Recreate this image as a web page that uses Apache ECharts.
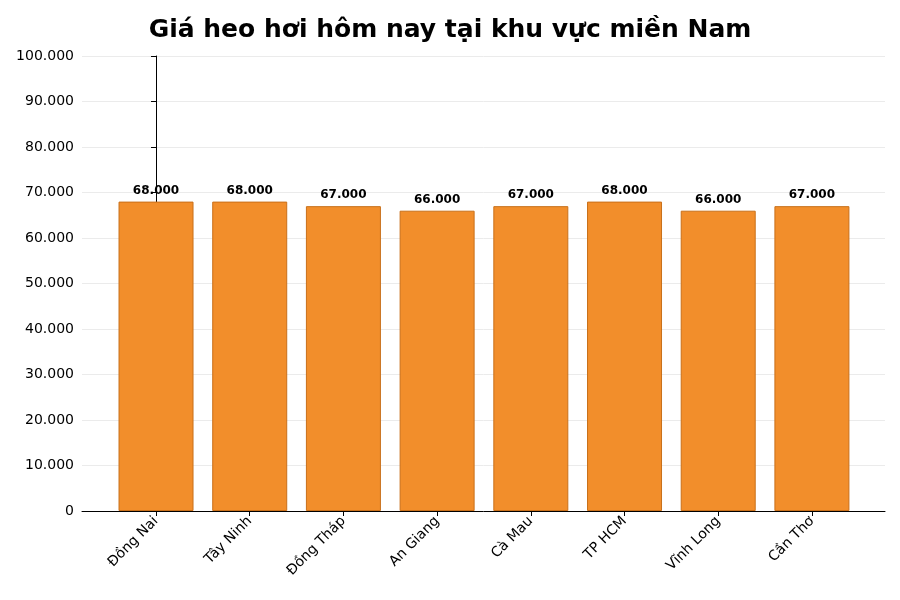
<!DOCTYPE html><html><head><meta charset="utf-8"><script src="https://cdn.jsdelivr.net/npm/echarts@6/dist/echarts.min.js"></script></head><body style="margin:0"><div id="c" style="width:900px;height:600px"></div><script>
const categories=["Đồng Nai","Tây Ninh","Đồng Tháp","An Giang","Cà Mau","TP HCM","Vĩnh Long","Cần Thơ"];
const values=[68000,68000,67000,66000,67000,68000,66000,67000];
const fmt=v=>v===0?'0':(v/1000).toFixed(0)+'.000';
const idx=categories.map((_,i)=>i);
const ch=echarts.init(document.getElementById('c'));
ch.setOption({animation:false,
title:{text:'Giá heo hơi hôm nay tại khu vực miền Nam',left:'center',top:13,textStyle:{fontFamily:'DejaVu Sans',fontSize:25,fontWeight:'bold',color:'#000'}},
grid:{left:82,right:15,top:56,bottom:89},
xAxis:{type:'value',min:-0.79,max:7.78,splitLine:{show:false},axisLine:{onZero:false,lineStyle:{color:'#000'}},axisTick:{customValues:idx,lineStyle:{color:'#000'}},axisLabel:{customValues:idx,formatter:v=>categories[Math.round(v)],rotate:45,color:'#000',fontFamily:'DejaVu Sans',fontSize:14,margin:8}},
yAxis:{type:'value',min:0,max:100000,interval:10000,axisLine:{show:true,lineStyle:{color:'#000'}},axisTick:{show:true,lineStyle:{color:'#000'}},splitLine:{lineStyle:{color:'#ebebeb'}},axisLabel:{formatter:fmt,color:'#000',fontFamily:'DejaVu Sans',fontSize:14}},
series:[{type:'bar',data:values.map((v,i)=>[i,v]),barWidth:75,itemStyle:{color:'#f28e2b',borderColor:'#c9701a',borderWidth:1},label:{show:true,position:'top',formatter:p=>fmt(p.value[1]),color:'#000',fontWeight:'bold',fontFamily:'DejaVu Sans',fontSize:12}}]});
</script></body></html>
